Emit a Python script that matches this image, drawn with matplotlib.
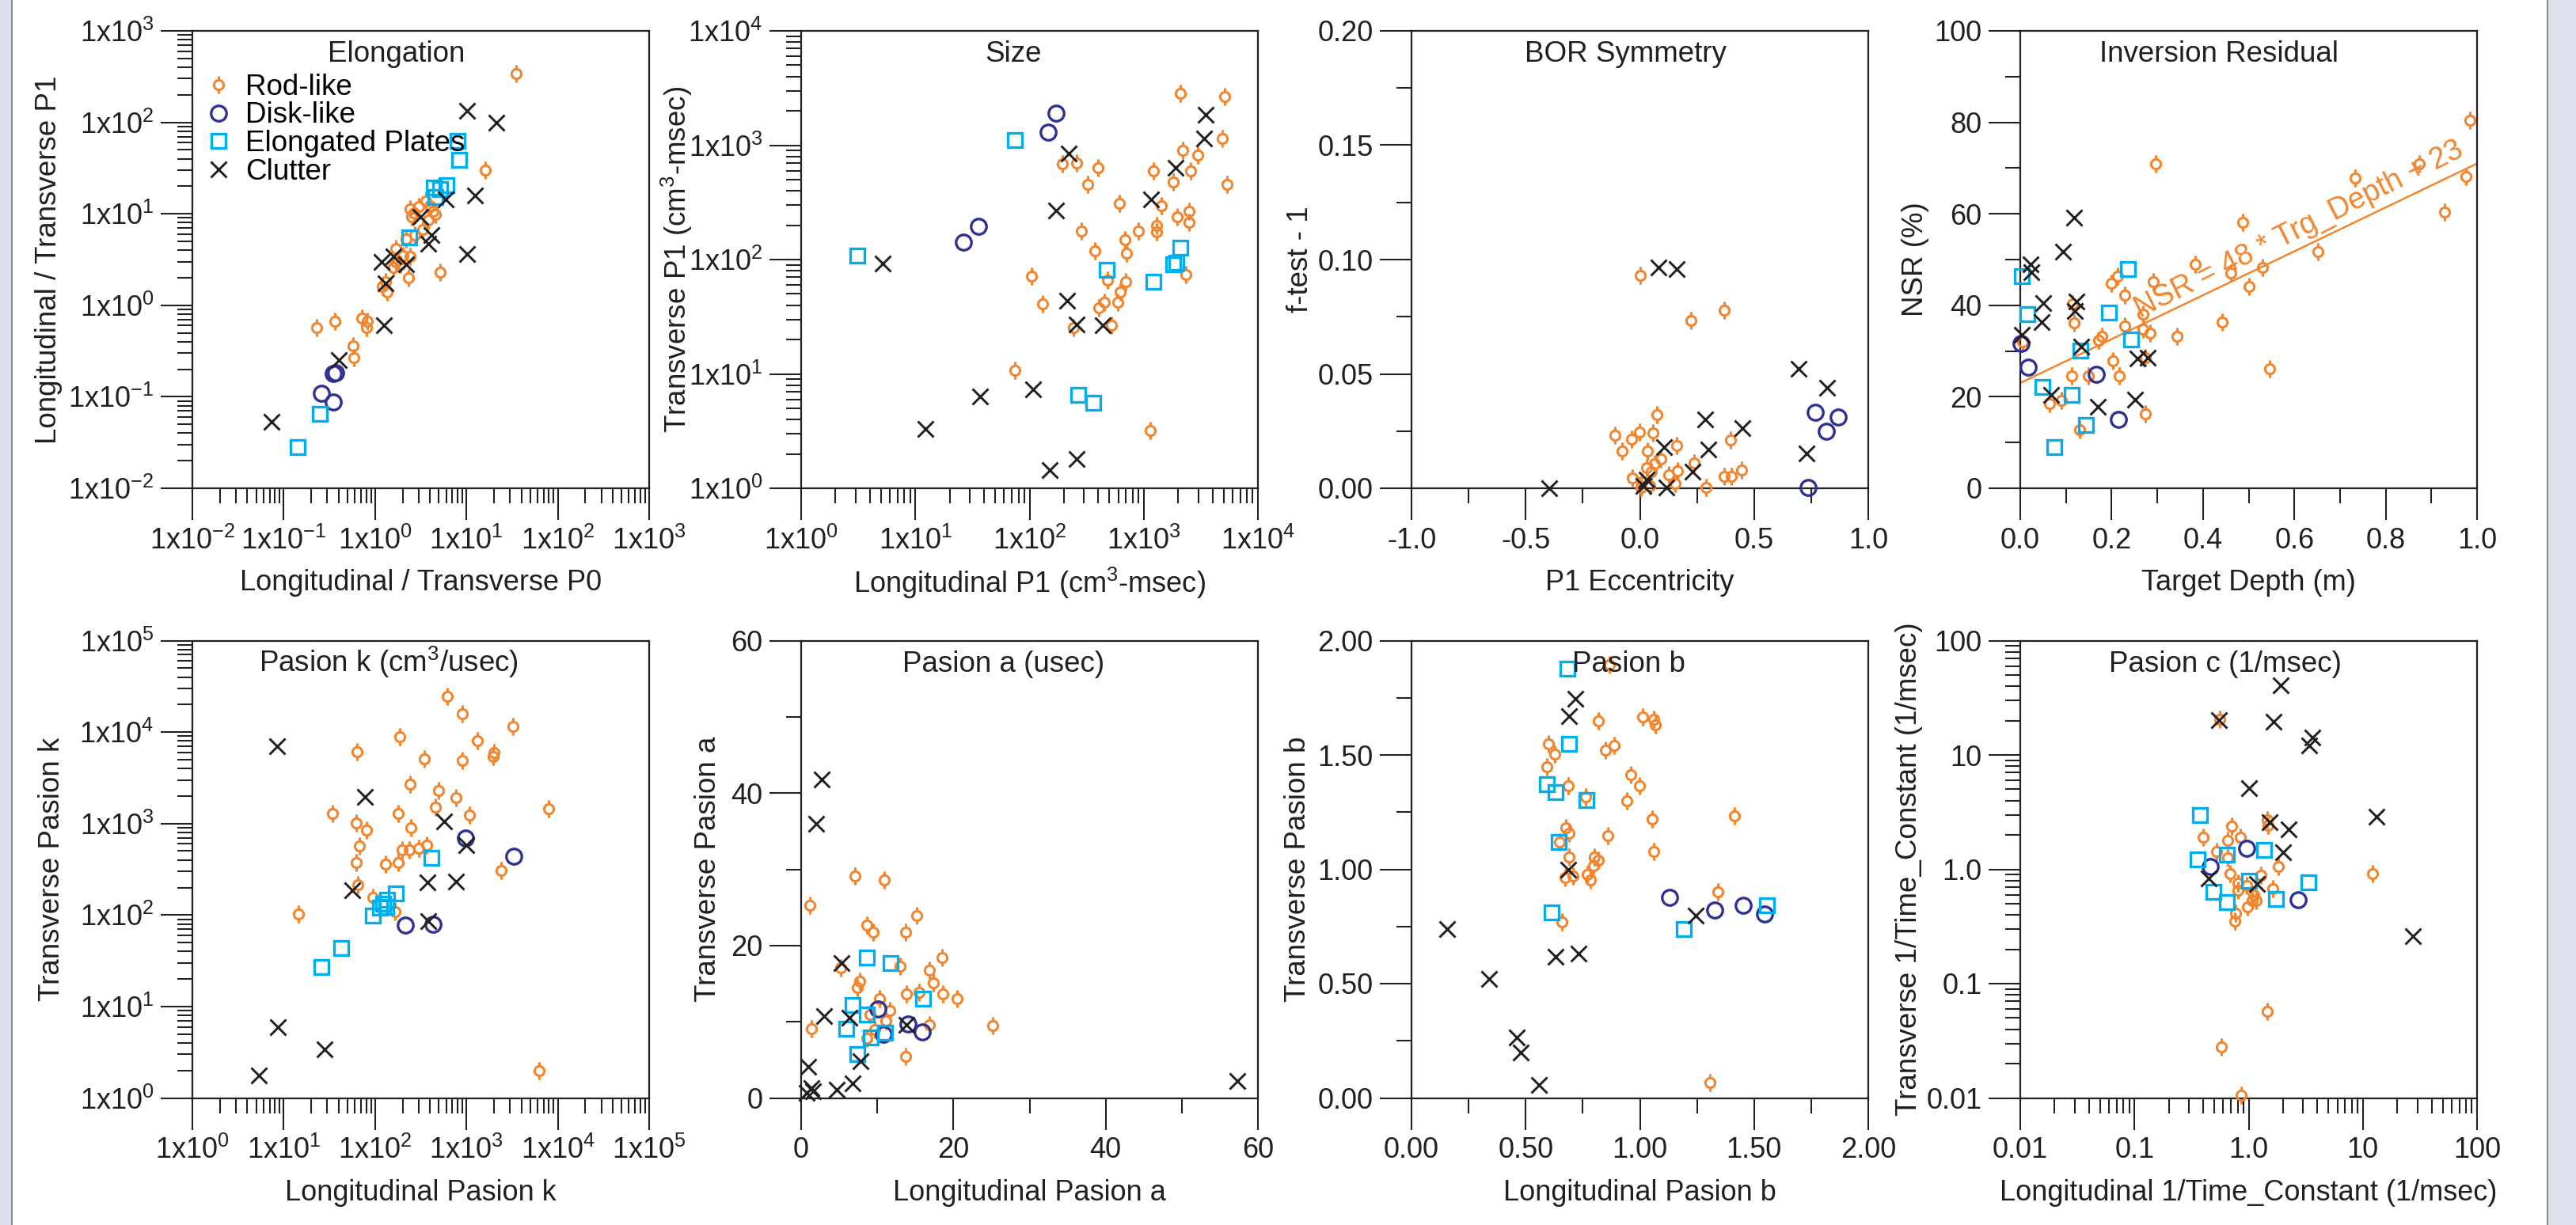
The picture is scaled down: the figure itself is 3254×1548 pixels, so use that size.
import numpy as np
import matplotlib
matplotlib.use("Agg")
import matplotlib.pyplot as plt
from matplotlib.path import Path
from matplotlib.lines import Line2D
from matplotlib.patches import Rectangle
from matplotlib.ticker import (LogLocator, MultipleLocator, FuncFormatter,
                               NullFormatter)

plt.rcParams["font.family"] = ["Liberation Sans", "DejaVu Sans"]
plt.rcParams["mathtext.fontset"] = "custom"
plt.rcParams["mathtext.rm"] = "Liberation Sans"
plt.rcParams["mathtext.it"] = "Liberation Sans:italic"
plt.rcParams["mathtext.bf"] = "Liberation Sans:bold"

# ---------------- data ----------------
# Elongation (longitudinal / transverse ratios)
elong_rod_x = [35, 16, 5.2, 2.3, 2.4, 3.0, 3.6, 4.3, 4.6, 3.8, 2.5, 3.3, 2.7, 2.2, 1.7, 2.0,
               2.4, 1.7, 1.9, 1.3, 1.2, 1.36, 0.23, 0.36, 0.71, 0.83, 0.81, 0.58, 0.59, 1.58, 2.65, 4.0]
elong_rod_y = [340, 30, 2.3, 2.0, 11.4, 11.9, 13.8, 10.6, 9.9, 8.5, 9.2, 6.8, 5.9, 5.3, 4.2, 3.5,
               3.4, 3.0, 2.8, 1.8, 1.6, 1.39, 0.57, 0.67, 0.72, 0.67, 0.57, 0.36, 0.27, 2.6, 10.2, 12.3]
elong_disk_x = [0.35, 0.37, 0.26, 0.35]
elong_disk_y = [0.18, 0.185, 0.11, 0.087]
elong_plate_x = [8.0, 8.3, 6.0, 4.4, 5.2, 4.6, 2.37, 0.25, 0.143]
elong_plate_y = [62.6, 38.7, 20.6, 19.2, 18.5, 15.4, 5.5, 0.065, 0.028]
elong_clut_x = [10.2, 21.4, 12.5, 5.9, 3.1, 4.1, 3.8, 10.2, 1.58, 1.17, 2.2, 1.31, 1.26, 0.40, 0.073]
elong_clut_y = [133, 99, 16.0, 14.3, 9.2, 5.9, 4.7, 3.6, 3.4, 3.0, 2.8, 1.74, 0.60, 0.25, 0.053]

# Size (P1, cm^3-msec)
size_rod_x = [2090, 5140, 4910, 2180, 2960, 193, 257, 396, 1224, 2570, 322, 1820, 5360, 608, 1420,
              1970, 2500, 2480, 1300, 1300, 904, 286, 684, 705, 373, 2340, 104, 479, 697, 625,
              590, 452, 401, 130, 524, 242, 75, 1146]
size_rod_y = [2860, 2650, 1150, 900, 822, 688, 700, 630, 593, 600, 454, 473, 454, 309, 297,
              237, 266, 210, 198, 176, 178, 178, 149, 113, 119, 74, 72, 66, 64, 52,
              42, 42, 38, 41, 26.6, 25.5, 10.8, 3.2]
size_disk_x = [170, 146, 35.8, 26.3]
size_disk_y = [1910, 1300, 195, 143]
size_plate_x = [74, 3.1, 474, 2090, 1930, 1820, 1224, 268, 360]
size_plate_y = [1110, 109, 81, 127, 94, 91.5, 64, 6.6, 5.6]
size_clut_x = [3500, 3400, 219, 1910, 1167, 170, 5.2, 212, 260, 438, 36.9, 107, 12.3, 151, 257]
size_clut_y = [1850, 1150, 848, 630, 337, 269, 92, 43.6, 27, 26.6, 6.3, 7.3, 3.3, 1.44, 1.79]

# BOR symmetry (P1 eccentricity vs f-test - 1)
bor_rod_x = [0.002, 0.225, 0.369, 0.074, -0.110, -0.038, -0.002, 0.056, -0.078, 0.034,
             0.160, 0.092, 0.063, 0.031, 0.049, -0.034, 0.009, 0.045, 0.005, 0.164,
             0.153, 0.236, 0.290, 0.369, 0.402, 0.445, 0.398, 0.128]
bor_rod_y = [0.0932, 0.0733, 0.0778, 0.0322, 0.0233, 0.0213, 0.0247, 0.0242, 0.0162, 0.0162,
             0.0186, 0.0129, 0.0106, 0.0089, 0.0072, 0.0046, 0.0029, 0.0012, 0.0003, 0.0077,
             0.0020, 0.0109, 0.0003, 0.0051, 0.0051, 0.0080, 0.0211, 0.0058]
bor_disk_x = [0.769, 0.867, 0.816, 0.737]
bor_disk_y = [0.0332, 0.0310, 0.0250, 0.0003]
bor_plate_x = []
bor_plate_y = []
bor_clut_x = [0.081, 0.160, 0.694, 0.820, 0.287, 0.449, 0.106, 0.301, 0.730, 0.232, 0.031, 0.016, 0.117, -0.398]
bor_clut_y = [0.0964, 0.0957, 0.0523, 0.0441, 0.0302, 0.0262, 0.0179, 0.0169, 0.0152, 0.0072,
              0.0037, 0.0012, 0.0003, 0.0]

# Inversion residual (target depth vs NSR %)
resid_rod_x = [0.984, 0.874, 0.976, 0.929, 0.733, 0.487, 0.296, 0.651, 0.383, 0.461,
               0.530, 0.500, 0.291, 0.200, 0.213, 0.229, 0.269, 0.228, 0.285, 0.268,
               0.344, 0.442, 0.171, 0.179, 0.117, 0.115, 0.202, 0.216, 0.112, 0.149,
               0.273, 0.546, 0.274, 0.064, 0.090, 0.130, 0.005]
resid_rod_y = [80.4, 71.0, 68.1, 60.4, 67.8, 58.2, 71.0, 51.8, 48.9, 47.0,
               48.3, 44.1, 45.1, 44.8, 46.4, 42.2, 38.0, 35.5, 33.9, 34.8,
               33.2, 36.4, 32.3, 33.2, 36.1, 40.3, 27.9, 24.6, 24.6, 24.6,
               28.6, 26.2, 16.3, 18.5, 19.2, 12.8, 32.0]
resid_disk_x = [0.001, 0.017, 0.166, 0.215]
resid_disk_y = [31.6, 26.5, 24.9, 15.0]
resid_plate_x = [0.004, 0.016, 0.235, 0.194, 0.242, 0.131, 0.049, 0.112, 0.144, 0.075]
resid_plate_y = [46.4, 38.0, 48.0, 38.4, 32.6, 30.1, 22.2, 20.5, 13.9, 9.0]
resid_clut_x = [0.118, 0.093, 0.022, 0.025, 0.051, 0.123, 0.120, 0.046, 0.004, 0.133,
                0.257, 0.279, 0.067, 0.170, 0.252]
resid_clut_y = [59.1, 51.7, 49.0, 47.3, 40.5, 40.9, 38.7, 36.4, 33.6, 30.9,
                28.3, 28.5, 20.5, 17.9, 19.4]
fit_slope = 48
fit_intercept = 23

# Pasion k (cm^3/usec)
pk_rod_x = [620, 910, 3220, 186, 1330, 1990, 1950, 63.6, 348, 896, 241, 497, 773, 461, 1079,
            7930, 34.2, 179, 61.8, 80, 246, 68, 197, 237, 303, 364, 62.7, 131, 179, 65,
            94, 164, 14.6, 2380, 6260]
pk_rod_y = [24600, 15700, 11500, 8900, 7980, 5940, 5400, 6070, 5130, 4940, 2680, 2280, 1900, 1520, 1240,
            1445, 1285, 1285, 1014, 844, 908, 571, 512, 512, 531, 585, 376, 362, 376, 216,
            155, 109, 102, 308, 2.0]
pk_disk_x = [980, 3320, 215, 428]
pk_disk_y = [692, 442, 77, 80]
pk_plate_x = [413, 167, 136, 122, 113, 134, 95.5, 42.4, 25.8]
pk_plate_y = [426, 173, 146, 134, 120, 124, 98, 43.8, 27.1]
pk_clut_x = [8.5, 78, 575, 1002, 56, 378, 762, 383, 8.65, 28.2, 5.3]
pk_clut_y = [7030, 1970, 1050, 583, 187, 227, 233, 85, 5.9, 3.4, 1.78]

# Pasion a (usec)
pa_rod_x = [1.19, 7.03, 10.9, 8.65, 9.5, 15.2, 13.7, 18.5, 13.0, 16.8, 5.2, 7.7, 7.4, 17.4,
            13.8, 15.5, 18.6, 20.5, 10.3, 11.6, 9.0, 11.1, 16.8, 25.2, 1.4, 8.65, 9.7, 13.7]
pa_rod_y = [25.3, 29.1, 28.6, 22.7, 21.7, 23.9, 21.7, 18.4, 17.3, 16.8, 17.1, 15.3, 14.5, 15.1,
            13.7, 13.9, 13.7, 13.0, 13.0, 11.5, 10.9, 10.1, 9.6, 9.5, 9.1, 7.8, 9.0, 5.5]
pa_disk_x = [10.05, 14.05, 15.9, 10.8]
pa_disk_y = [11.7, 9.7, 8.7, 8.4]
pa_plate_x = [8.65, 11.7, 16.0, 6.8, 8.65, 5.9, 11.0, 9.2, 7.35]
pa_plate_y = [18.4, 17.7, 13.0, 12.2, 10.9, 9.1, 8.6, 7.9, 5.8]
pa_clut_x = [2.7, 1.95, 5.3, 3.0, 6.3, 13.8, 7.8, 0.97, 6.8, 1.3, 1.6, 4.65, 0.76, 57.3]
pa_clut_y = [41.8, 36.0, 17.7, 10.7, 10.5, 9.6, 4.8, 4.1, 1.95, 1.3, 0.9, 1.1, 0.7, 2.2]

# Pasion b
pb_rod_x = [0.865, 0.819, 1.013, 1.062, 1.068, 0.600, 0.628, 0.594, 0.848, 0.888,
            0.961, 0.997, 0.688, 0.761, 0.942, 1.054, 1.413, 0.675, 0.690, 0.861,
            0.649, 1.062, 0.690, 0.800, 0.819, 0.797, 0.768, 0.784, 0.706, 0.674,
            1.342, 0.658, 1.307]
pb_rod_y = [1.893, 1.650, 1.665, 1.656, 1.633, 1.547, 1.503, 1.449, 1.522, 1.541,
            1.413, 1.366, 1.366, 1.317, 1.298, 1.219, 1.234, 1.183, 1.157, 1.147,
            1.119, 1.078, 1.055, 1.055, 1.040, 1.017, 0.978, 0.953, 0.972, 0.965,
            0.901, 0.771, 0.068]
pb_disk_x = [1.129, 1.329, 1.454, 1.545]
pb_disk_y = [0.876, 0.822, 0.841, 0.803]
pb_plate_x = [0.684, 0.690, 0.591, 0.632, 0.765, 0.645, 0.615, 1.194, 1.557]
pb_plate_y = [1.876, 1.547, 1.371, 1.336, 1.304, 1.121, 0.812, 0.739, 0.844]
pb_clut_x = [0.716, 0.690, 0.686, 1.245, 0.155, 0.632, 0.732, 0.338, 0.461, 0.477, 0.557]
pb_clut_y = [1.745, 1.671, 0.997, 0.799, 0.738, 0.616, 0.630, 0.522, 0.266, 0.198, 0.058]

# Pasion c (1/msec)
pc_rod_x = [0.556, 1.45, 1.47, 0.71, 0.40, 0.66, 0.85, 0.52, 0.66, 1.83, 12.1, 0.69, 0.80,
            1.29, 0.96, 0.81, 1.63, 1.11, 1.08, 1.16, 0.97, 0.77, 0.76, 1.45, 0.58, 0.86]
pc_rod_y = [20.6, 2.70, 2.44, 2.40, 1.90, 1.79, 1.90, 1.42, 1.26, 1.05, 0.91, 0.91, 0.76,
            0.89, 0.72, 0.66, 0.68, 0.60, 0.53, 0.53, 0.47, 0.41, 0.35, 0.057, 0.028, 0.0106]
pc_disk_x = [0.96, 0.46, 2.72]
pc_disk_y = [1.52, 1.05, 0.54]
pc_plate_x = [0.376, 0.355, 0.64, 1.36, 1.01, 3.35, 0.49, 0.64, 1.73]
pc_plate_y = [2.98, 1.22, 1.35, 1.47, 0.80, 0.77, 0.64, 0.52, 0.55]
pc_clut_x = [1.92, 0.55, 1.66, 3.61, 3.40, 1.01, 1.53, 2.25, 13.1, 2.00, 0.45, 1.18, 27.3]
pc_clut_y = [40.5, 20.3, 19.6, 14.2, 12.1, 5.15, 2.58, 2.22, 2.89, 1.41, 0.83, 0.74, 0.26]

class_names = ["Rod-like", "Disk-like", "Elongated Plates", "Clutter"]

# ---------------- styles ----------------
ORANGE = "#F2852E"
NAVY = "#2E3192"
CYAN = "#00AEEF"
BLACK = "#231F20"


def rod_path():
    ring = Path.circle((0, 0), 0.55)
    stems = Path([(0, 0.55), (0, 1.0), (0, -0.55), (0, -1.0)],
                 [Path.MOVETO, Path.LINETO, Path.MOVETO, Path.LINETO])
    return Path.make_compound_path(ring, stems)


STYLES = [
    dict(marker=rod_path(), ms=16, mew=2.2, mec=ORANGE),
    dict(marker="o", ms=14, mew=2.4, mec=NAVY),
    dict(marker="s", ms=13, mew=2.4, mec=CYAN),
    dict(marker="x", ms=14.5, mew=2.1, mec=BLACK),
]

FIG_W, FIG_H = 3254, 1548
fig = plt.figure(figsize=(FIG_W / 100, FIG_H / 100), dpi=100)
fig.patch.set_facecolor("white")

# page side bands
for x0, x1, edge in [(0, 15, 15), (3218, FIG_W, 3218)]:
    fig.add_artist(Rectangle((x0 / FIG_W, 0), (x1 - x0) / FIG_W, 1,
                             transform=fig.transFigure, facecolor="#DCE1EC",
                             edgecolor="none", zorder=0))
    fig.add_artist(Line2D([edge / FIG_W] * 2, [0, 1], transform=fig.transFigure,
                          color="#6F7480", lw=1.2))

col_left = [243, 1012, 1783, 2552]
row_top = [39, 809.5]
AX_W, AX_H = 577, 578


def make_axes(row, col):
    l = col_left[col] / FIG_W
    b = (FIG_H - row_top[row] - AX_H) / FIG_H
    return fig.add_axes([l, b, AX_W / FIG_W, AX_H / FIG_H])


def log_label(v, pos):
    return "1x10$^{%d}$" % int(round(np.log10(v)))


def setup_log(axis, fmt=None):
    axis.set_major_locator(LogLocator(base=10, numticks=30))
    axis.set_minor_locator(LogLocator(base=10, subs=np.arange(2, 10), numticks=300))
    axis.set_major_formatter(FuncFormatter(fmt or log_label))
    axis.set_minor_formatter(NullFormatter())


def setup_lin(axis, major, minor, fmt):
    axis.set_major_locator(MultipleLocator(major))
    axis.set_minor_locator(MultipleLocator(minor))
    axis.set_major_formatter(FuncFormatter(lambda v, p: fmt.format(v)))


def draw(ax, series, title, tx, xlabel, ylabel, ylab_x):
    for (xs, ys), st in zip(series, STYLES):
        if len(xs):
            ax.plot(xs, ys, ls="none", mfc="none", clip_on=False, zorder=3, **st)
    ax.text(tx, 0.932, title, transform=ax.transAxes, ha="center",
            va="baseline", fontsize=26.5, color=BLACK, zorder=5)
    ax.set_xlabel(xlabel, fontsize=26, color=BLACK)
    ax.set_ylabel(ylabel, fontsize=26.5, color=BLACK)
    ax.xaxis.label.set_va("center")
    ax.yaxis.label.set_rotation_mode("default")
    ax.yaxis.label.set_va("center")
    ax.xaxis.set_label_coords(0.5, -0.207)
    ax.yaxis.set_label_coords(ylab_x, 0.5)
    ax.tick_params(which="major", direction="out", length=29, width=1.5,
                   labelsize=26, pad=6, top=False, right=False, colors=BLACK)
    ax.tick_params(which="minor", direction="out", length=14, width=1.5,
                   top=False, right=False, colors=BLACK)
    for s in ax.spines.values():
        s.set_linewidth(1.6)
        s.set_color(BLACK)


# 1. Elongation
ax = make_axes(0, 0)
ax.set_xscale("log"); ax.set_yscale("log")
ax.set_xlim(1e-2, 1e3); ax.set_ylim(1e-2, 1e3)
setup_log(ax.xaxis); setup_log(ax.yaxis)
draw(ax, [(elong_rod_x, elong_rod_y), (elong_disk_x, elong_disk_y),
          (elong_plate_x, elong_plate_y), (elong_clut_x, elong_clut_y)],
     "Elongation", 0.447, "Longitudinal / Transverse P0",
     "Longitudinal / Transverse P1", -0.314)
handles = [Line2D([], [], ls="none", mfc="none", **st) for st in STYLES]
ax.legend(handles, class_names, loc="upper left", bbox_to_anchor=(0.026, 0.907),
          frameon=False, fontsize=26.5, handlelength=1.0, handletextpad=0.42,
          borderpad=0, borderaxespad=0, labelspacing=0.02, numpoints=1)

# 2. Size
ax = make_axes(0, 1)
ax.set_xscale("log"); ax.set_yscale("log")
ax.set_xlim(1, 1e4); ax.set_ylim(1, 1e4)
setup_log(ax.xaxis); setup_log(ax.yaxis)
draw(ax, [(size_rod_x, size_rod_y), (size_disk_x, size_disk_y),
          (size_plate_x, size_plate_y), (size_clut_x, size_clut_y)],
     "Size", 0.465, "Longitudinal P1 (cm$^{3}$-msec)",
     "Transverse P1 (cm$^{3}$-msec)", -0.272)

# 3. BOR Symmetry
ax = make_axes(0, 2)
ax.set_xlim(-1, 1); ax.set_ylim(0, 0.2)
setup_lin(ax.xaxis, 0.5, 0.25, "{:.1f}")
setup_lin(ax.yaxis, 0.05, 0.025, "{:.2f}")
draw(ax, [(bor_rod_x, bor_rod_y), (bor_disk_x, bor_disk_y),
          (bor_plate_x, bor_plate_y), (bor_clut_x, bor_clut_y)],
     "BOR Symmetry", 0.468, "P1 Eccentricity", "f-test - 1", -0.244)

# 4. Inversion Residual with linear fit
ax = make_axes(0, 3)
ax.set_xlim(0, 1); ax.set_ylim(0, 100)
setup_lin(ax.xaxis, 0.2, 0.1, "{:.1f}")
setup_lin(ax.yaxis, 20, 10, "{:.0f}")
fit_x = np.array([0.0, 1.0])
ax.plot(fit_x, fit_slope * fit_x + fit_intercept, color=ORANGE, lw=1.8, zorder=2)
draw(ax, [(resid_rod_x, resid_rod_y), (resid_disk_x, resid_disk_y),
          (resid_plate_x, resid_plate_y), (resid_clut_x, resid_clut_y)],
     "Inversion Residual", 0.435, "Target Depth (m)", "NSR (%)", -0.229)
ax.text(0.262, 37.3, "NSR = %d * Trg_Depth + %d" % (fit_slope, fit_intercept),
        color=ORANGE, fontsize=27, rotation=26.6, rotation_mode="anchor",
        ha="left", va="baseline", zorder=4)

# 5. Pasion k
ax = make_axes(1, 0)
ax.set_xscale("log"); ax.set_yscale("log")
ax.set_xlim(1, 1e5); ax.set_ylim(1, 1e5)
setup_log(ax.xaxis); setup_log(ax.yaxis)
draw(ax, [(pk_rod_x, pk_rod_y), (pk_disk_x, pk_disk_y),
          (pk_plate_x, pk_plate_y), (pk_clut_x, pk_clut_y)],
     "Pasion k (cm$^{3}$/usec)", 0.43, "Longitudinal Pasion k",
     "Transverse Pasion k", -0.307)

# 6. Pasion a
ax = make_axes(1, 1)
ax.set_xlim(0, 60); ax.set_ylim(0, 60)
setup_lin(ax.xaxis, 20, 10, "{:.0f}")
setup_lin(ax.yaxis, 20, 10, "{:.0f}")
draw(ax, [(pa_rod_x, pa_rod_y), (pa_disk_x, pa_disk_y),
          (pa_plate_x, pa_plate_y), (pa_clut_x, pa_clut_y)],
     "Pasion a (usec)", 0.443, "Longitudinal Pasion a",
     "Transverse Pasion a", -0.203)

# 7. Pasion b
ax = make_axes(1, 2)
ax.set_xlim(0, 2); ax.set_ylim(0, 2)
setup_lin(ax.xaxis, 0.5, 0.25, "{:.2f}")
setup_lin(ax.yaxis, 0.5, 0.25, "{:.2f}")
draw(ax, [(pb_rod_x, pb_rod_y), (pb_disk_x, pb_disk_y),
          (pb_plate_x, pb_plate_y), (pb_clut_x, pb_clut_y)],
     "Pasion b", 0.476, "Longitudinal Pasion b", "Transverse Pasion b", -0.248)

# 8. Pasion c
ax = make_axes(1, 3)
ax.set_xscale("log"); ax.set_yscale("log")
ax.set_xlim(0.01, 100); ax.set_ylim(0.01, 100)
dec_labels = {-2: "0.01", -1: "0.1", 0: "1.0", 1: "10", 2: "100"}
dec_fmt = lambda v, p: dec_labels.get(int(round(np.log10(v))), "")
setup_log(ax.xaxis, dec_fmt); setup_log(ax.yaxis, dec_fmt)
draw(ax, [(pc_rod_x, pc_rod_y), (pc_disk_x, pc_disk_y),
          (pc_plate_x, pc_plate_y), (pc_clut_x, pc_clut_y)],
     "Pasion c (1/msec)", 0.449, "Longitudinal 1/Time_Constant (1/msec)",
     "Transverse 1/Time_Constant (1/msec)", -0.244)

fig.savefig("out.png", dpi=100)
